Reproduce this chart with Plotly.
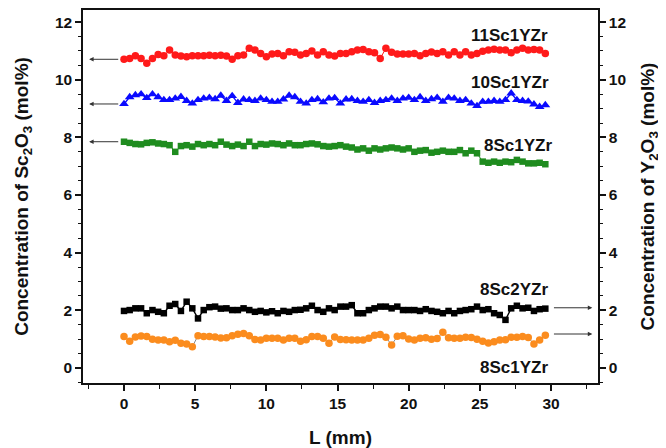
import numpy as np
import plotly.graph_objects as go

L = [round(0.4 * i, 1) for i in range(75)]

sc11 = [10.71, 10.74, 10.83, 10.74, 10.57, 10.74, 10.88, 10.83, 11.03, 10.86,
        10.82, 10.80, 10.83, 10.83, 10.83, 10.85, 10.83, 10.85, 10.82, 10.71,
        10.83, 10.86, 11.09, 11.03, 10.91, 10.80, 10.89, 10.91, 10.83, 10.97,
        10.95, 10.86, 10.91, 11.00, 10.86, 10.97, 10.86, 10.82, 10.91, 10.91,
        10.97, 11.03, 11.05, 10.97, 10.94, 10.74, 11.09, 10.95, 10.89, 10.89,
        10.89, 10.91, 10.83, 10.91, 10.96, 10.91, 10.97, 10.86, 10.97, 10.86,
        10.97, 10.86, 10.91, 10.99, 11.03, 11.06, 11.03, 11.03, 10.94, 11.03,
        11.09, 11.03, 11.05, 11.03, 10.91]

sc10 = [9.16, 9.40, 9.47, 9.50, 9.37, 9.50, 9.40, 9.30, 9.30, 9.35,
        9.41, 9.27, 9.18, 9.30, 9.35, 9.38, 9.33, 9.45, 9.27, 9.44,
        9.20, 9.32, 9.30, 9.27, 9.35, 9.30, 9.24, 9.24, 9.32, 9.45,
        9.40, 9.24, 9.18, 9.30, 9.33, 9.22, 9.35, 9.37, 9.18, 9.32,
        9.33, 9.27, 9.24, 9.30, 9.20, 9.27, 9.30, 9.35, 9.27, 9.35,
        9.38, 9.30, 9.40, 9.27, 9.33, 9.38, 9.24, 9.38, 9.35, 9.27,
        9.30, 9.18, 9.09, 9.24, 9.24, 9.27, 9.24, 9.30, 9.53, 9.30,
        9.27, 9.25, 9.15, 9.06, 9.12]

sc8 = [7.85, 7.81, 7.77, 7.76, 7.81, 7.83, 7.79, 7.77, 7.73, 7.50,
       7.70, 7.73, 7.68, 7.77, 7.73, 7.77, 7.73, 7.85, 7.75, 7.70,
       7.75, 7.70, 7.85, 7.70, 7.77, 7.75, 7.79, 7.77, 7.73, 7.79,
       7.73, 7.73, 7.77, 7.79, 7.76, 7.70, 7.68, 7.70, 7.73, 7.68,
       7.65, 7.58, 7.62, 7.54, 7.62, 7.58, 7.62, 7.65, 7.62, 7.58,
       7.62, 7.50, 7.54, 7.56, 7.47, 7.50, 7.54, 7.50, 7.50, 7.56,
       7.45, 7.54, 7.45, 7.16, 7.12, 7.16, 7.12, 7.16, 7.14, 7.22,
       7.16, 7.10, 7.10, 7.12, 7.07]

y2_8sc2 = [1.98, 2.01, 2.07, 2.07, 1.90, 2.01, 1.95, 1.90, 2.16, 2.22,
           1.98, 2.30, 2.07, 1.72, 2.01, 2.11, 2.13, 2.06, 2.07, 2.01,
           2.01, 2.07, 2.01, 1.95, 1.98, 1.93, 1.97, 1.90, 1.98, 1.95,
           2.01, 2.02, 2.07, 2.16, 2.01, 1.95, 2.07, 2.01, 2.13, 2.13,
           2.18, 1.90, 1.90, 2.01, 2.07, 2.13, 2.13, 2.07, 2.13, 2.01,
           2.01, 2.01, 1.98, 2.04, 1.98, 1.95, 1.90, 1.98, 1.90, 1.98,
           2.01, 2.04, 2.13, 2.01, 2.04, 1.90, 1.84, 1.67, 2.07, 2.16,
           2.07, 2.09, 1.98, 2.04, 2.06]

y1_8sc1 = [1.09, 0.93, 1.08, 1.11, 1.09, 1.00, 0.97, 0.97, 0.91, 0.96,
           0.86, 0.83, 0.74, 1.12, 1.09, 1.09, 1.08, 1.04, 1.05, 1.12,
           1.17, 1.20, 1.12, 0.99, 0.97, 1.03, 1.03, 1.03, 0.97, 1.03,
           1.03, 0.93, 0.98, 1.09, 1.09, 1.03, 0.86, 1.08, 0.99, 0.98,
           0.97, 0.97, 0.97, 1.03, 1.14, 1.16, 1.07, 0.80, 1.10, 1.12,
           1.01, 0.97, 1.03, 1.05, 1.00, 1.02, 1.24, 1.05, 1.03, 1.03,
           1.07, 1.06, 1.00, 0.93, 0.87, 0.91, 0.97, 0.98, 1.07, 1.07,
           1.09, 1.06, 0.83, 0.97, 1.14]

labels = ["11Sc1YZr", "10Sc1YZr", "8Sc1YZr", "8Sc2YZr", "8Sc1YZr"]
x_ticks = [0, 5, 10, 15, 20, 25, 30]
y_ticks = [0, 2, 4, 6, 8, 10, 12]

FONT = "Liberation Sans"

fig = go.Figure()
fig.add_trace(go.Scatter(x=L, y=sc11, mode="lines+markers", name=labels[0],
                         line=dict(color="#ff1a1a", width=1),
                         marker=dict(symbol="circle", size=7.5, color="#ff1a1a")))
fig.add_trace(go.Scatter(x=L, y=sc10, mode="lines+markers", name=labels[1],
                         line=dict(color="#0a0aff", width=1.4),
                         marker=dict(symbol="triangle-up", size=8.5, color="#0a0aff")))
fig.add_trace(go.Scatter(x=L, y=sc8, mode="lines+markers", name=labels[2],
                         line=dict(color="#1d7d1d", width=1),
                         marker=dict(symbol="square", size=6.5, color="#1f8c1f")))
fig.add_trace(go.Scatter(x=L, y=y2_8sc2, mode="lines+markers", name=labels[3],
                         yaxis="y2",
                         line=dict(color="#000000", width=1.4),
                         marker=dict(symbol="square", size=6.5, color="#000000")))
fig.add_trace(go.Scatter(x=L, y=y1_8sc1, mode="lines+markers", name=labels[4],
                         yaxis="y2",
                         line=dict(color="#888888", width=1),
                         marker=dict(symbol="circle", size=7.5, color="#fb8c1e")))

tickfont = dict(family=FONT, size=15.5, color="#111", weight="bold")
titlefont = dict(family=FONT, size=19, color="#111", weight="bold")

fig.update_layout(
    width=658, height=440,
    margin=dict(l=75, r=68, t=2, b=65, autoexpand=False),
    paper_bgcolor="white", plot_bgcolor="white",
    showlegend=False,
    xaxis=dict(range=[-2.88, 33.3], tickvals=x_ticks, ticks="outside", ticklen=6,
               tickwidth=1.5, tickcolor="#111", showline=True, linecolor="#111",
               linewidth=1.5, mirror=True, showgrid=False, zeroline=False,
               tickfont=tickfont, automargin=False,
               minor=dict(dtick=2.5, tick0=0, ticks="outside", ticklen=4,
                          tickwidth=1.2, tickcolor="#111"),
               title=dict(text="L (mm)", font=titlefont, standoff=19)),
    yaxis=dict(range=[-0.52, 12.42], tickvals=y_ticks, ticks="outside", ticklen=6,
               tickwidth=1.5, tickcolor="#111", showline=True, linecolor="#111",
               linewidth=1.5, showgrid=False, zeroline=False, tickfont=tickfont,
               automargin=False,
               minor=dict(dtick=0.5, tick0=0, ticks="outside", ticklen=3,
                          tickwidth=1.2, tickcolor="#111"),
               title=dict(text="Concentration of Sc<sub>2</sub>O<sub>3</sub> (mol%)",
                          font=titlefont, standoff=21)),
    yaxis2=dict(range=[-0.52, 12.42], tickvals=y_ticks, ticks="outside", ticklen=6,
                tickwidth=1.5, tickcolor="#111", showline=True, linecolor="#111",
                linewidth=1.5, showgrid=False, zeroline=False, tickfont=tickfont,
                overlaying="y", side="right", automargin=False,
                minor=dict(dtick=0.5, tick0=0, ticks="outside", ticklen=3,
                           tickwidth=1.2, tickcolor="#111"),
                title=dict(text="Concentration of Y<sub>2</sub>O<sub>3</sub> (mol%)",
                           font=titlefont, standoff=16)),
)

lab_font = dict(family=FONT, size=17, color="#111", weight="bold")
label_pos = [(27.1, 11.55), (27.1, 9.92), (27.7, 7.73), (27.4, 2.74), (27.4, 0.03)]
for text, (lx, ly) in zip(labels, label_pos):
    fig.add_annotation(x=lx, y=ly, xref="x", yref="y", text=text, showarrow=False,
                       font=lab_font)

# arrows pointing to the relevant axis
arrows = [(-2.45, sc11[0], -0.3, sc11[0]), (-2.45, sc10[0], -0.3, sc10[0]),
          (-2.45, sc8[0], -0.3, sc8[0]),
          (32.9, 2.09, 30.1, 2.09), (32.9, 1.18, 30.1, 1.18)]
for hx, hy, tx, ty in arrows:
    fig.add_annotation(x=hx, y=hy, ax=tx, ay=ty, xref="x", yref="y", axref="x",
                       ayref="y", text="", showarrow=True, arrowhead=2,
                       arrowsize=0.9, arrowwidth=1, arrowcolor="#333")

fig.write_html("out.html")
